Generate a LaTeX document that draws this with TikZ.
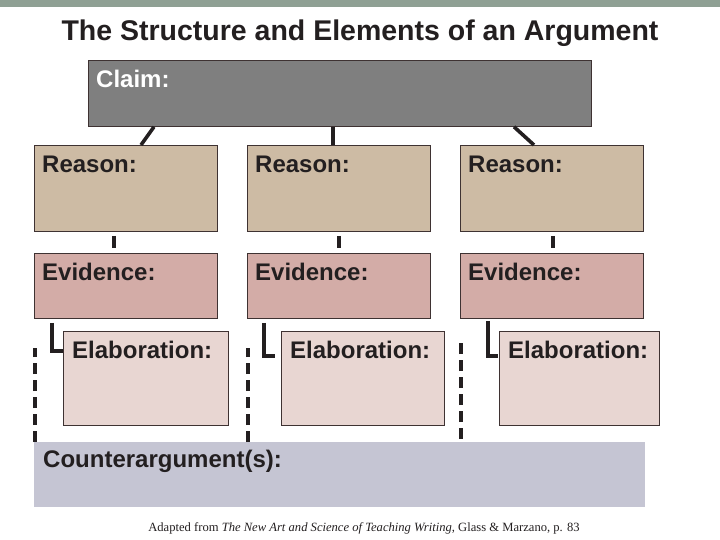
\documentclass[tikz,border=0pt]{standalone}
\usepackage{fontspec}
\setmainfont{Liberation Sans}
\newfontfamily\captionfont{Liberation Serif}
\usepackage{xcolor}
\usetikzlibrary{positioning, calc}
\definecolor{BandGreen}{HTML}{8FA094}
\definecolor{ClaimGray}{HTML}{7F7F7F}
\definecolor{ReasonTan}{HTML}{CDBBA4}
\definecolor{EvidenceRose}{HTML}{D3ACA7}
\definecolor{ElabPink}{HTML}{E8D6D2}
\definecolor{CounterLilac}{HTML}{C5C5D3}
\definecolor{BoxEdge}{HTML}{3E3232}
\definecolor{Ink}{HTML}{231F20}

\tikzset{
  box/.style={draw=BoxEdge, line width=0.8pt, anchor=north west, inner sep=0pt},
  claimbox/.style={box, fill=ClaimGray, minimum width=503pt, minimum height=66pt},
  reasonbox/.style={box, fill=ReasonTan, minimum width=183pt, minimum height=86pt},
  evidencebox/.style={box, fill=EvidenceRose, minimum width=183pt, minimum height=65pt},
  elabbox/.style={box, fill=ElabPink, minimum height=94pt},
  counterbox/.style={anchor=north west, inner sep=0pt, fill=CounterLilac, minimum width=611pt, minimum height=65pt},
  lbl/.style={font=\bfseries\fontsize{24}{28}\selectfont, text=Ink, anchor=base west, inner sep=0pt},
  link/.style={draw=Ink, line width=3.6pt},
  counterlink/.style={draw=Ink, line width=3.6pt, dash pattern=on 11pt off 6pt}
}

\begin{document}
\begin{tikzpicture}[x=1pt, y=-1pt]
  \useasboundingbox (0,0) rectangle (720,540);
  % Header band and title
  \fill[BandGreen] (0,0) rectangle (720,7);
  \node[font=\bfseries\fontsize{28.5}{32}\selectfont, text=Ink, anchor=base, inner sep=0pt] (title) at (360,41) {The Structure and Elements of an Argument};

  % Claim
  \node[claimbox] (claim) at (88,60) {};
  \node[lbl, text=white] at ([xshift=8pt, yshift=-28pt]claim.north west) {Claim:};

  % Reasons
  \node[reasonbox] (r1) at (34,145) {};
  \node[reasonbox] (r2) at (247,145) {};
  \node[reasonbox] (r3) at (460,145) {};
  \foreach \n in {r1, r2, r3} {
    \node[lbl] at ([xshift=8pt, yshift=-28pt]\n.north west) {Reason:};
  }

  % Evidence
  \node[evidencebox] (e1) at (34,253) {};
  \node[evidencebox] (e2) at (247,253) {};
  \node[evidencebox] (e3) at (460,253) {};
  \foreach \n in {e1, e2, e3} {
    \node[lbl] at ([xshift=8pt, yshift=-27pt]\n.north west) {Evidence:};
  }

  % Elaboration
  \node[elabbox, minimum width=165pt] (el1) at (63,331) {};
  \node[elabbox, minimum width=163pt] (el2) at (281,331) {};
  \node[elabbox, minimum width=160pt] (el3) at (499,331) {};
  \foreach \n in {el1, el2, el3} {
    \node[lbl] at ([xshift=9pt, yshift=-27pt]\n.north west) {Elaboration:};
  }

  % Counterargument
  \node[counterbox] (ca) at (34,442) {};
  \node[lbl] at ([xshift=9pt, yshift=-25pt]ca.north west) {Counterargument(s):};

  % Claim to reasons
  \draw[link] ([xshift=66pt]claim.south west) -- ([xshift=107pt]r1.north west);
  \draw[link] ([xshift=245pt]claim.south west) -- ([xshift=86pt]r2.north west);
  \draw[link] ([xshift=426pt]claim.south west) -- ([xshift=74pt]r3.north west);

  % Reasons to evidence (short ticks)
  \draw[link, shorten <=4pt, shorten >=5pt] ([xshift=80pt]r1.south west) -- ([xshift=80pt]e1.north west);
  \draw[link, shorten <=4pt, shorten >=5pt] ([xshift=92pt]r2.south west) -- ([xshift=92pt]e2.north west);
  \draw[link, shorten <=4pt, shorten >=5pt] ([xshift=93pt]r3.south west) -- ([xshift=93pt]e3.north west);

  % Evidence to elaboration (L brackets)
  \draw[link] ([xshift=18pt, yshift=-4pt]e1.south west) |- ([yshift=-20pt]el1.north west);
  \draw[link] ([xshift=17pt, yshift=-4pt]e2.south west) |- ([xshift=-6pt, yshift=-25pt]el2.north west);
  \draw[link] ([xshift=28pt, yshift=-2pt]e3.south west) |- ([xshift=-1pt, yshift=-25pt]el3.north west);

  % Counterargument links (dashed)
  \draw[counterlink] ([xshift=1pt]ca.north west) -- ++(0pt,94pt);
  \draw[counterlink] ([xshift=214pt]ca.north west) -- ++(0pt,94pt);
  \draw[counterlink] ([xshift=427pt, yshift=3pt]ca.north west) -- ++(0pt,96pt);

  % Source
  \node[font=\captionfont\fontsize{12.6}{15}\selectfont, text=Ink, anchor=base, inner sep=0pt] (source) at (364,531)
    {Adapted from \textit{The New Art and Science of Teaching Writing}, Glass \& Marzano, p. 83};
\end{tikzpicture}
\end{document}
